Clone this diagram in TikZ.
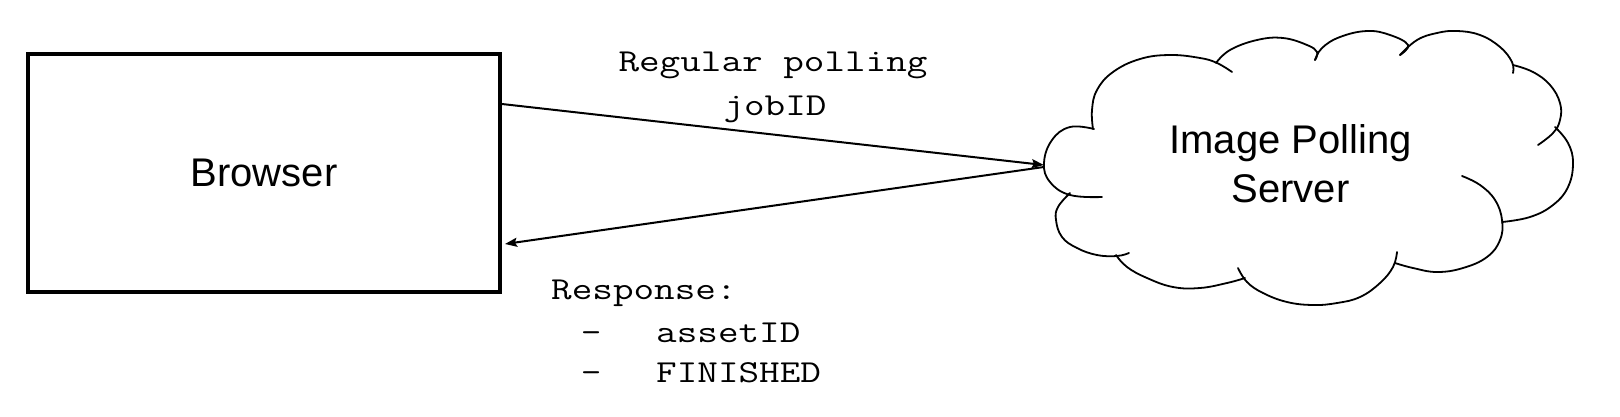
\documentclass[tikz,border=0pt]{standalone}
\usepackage{fontspec}
\setmainfont{Liberation Sans}
\usetikzlibrary{arrows.meta}
\newcommand{\mtx}[1]{\scalebox{1.25}[1]{#1}}
\begin{document}
\begin{tikzpicture}[x=1pt,y=-1pt,
  bigtext/.style={font=\fontsize{40}{49}\selectfont},
  monotext/.style={font=\ttfamily\fontsize{32}{40}\selectfont, inner sep=0pt},
  cloudline/.style={line width=1.8pt, line cap=round},
  conn/.style={line width=2pt, -{Stealth[length=12pt,width=9pt,inset=2pt]}}]
\useasboundingbox (0,0) rectangle (1620,416);
\node[draw, line width=4pt, minimum width=472pt, minimum height=238pt, inner sep=0pt, bigtext] (browser) at (264,173) {Browser};
\node[minimum width=529pt, minimum height=274pt, inner sep=0pt,
      label={[bigtext, align=center, xshift=-18pt, yshift=4pt]center:Image Polling\\Server}] (cloud) at (1308.5,168) {};
% cloud outline
\draw[cloudline] plot[smooth, tension=0.7] coordinates {(1094,129) (1070,127) (1052,140) (1044,163) (1050,182) (1070,195) (1102,197)};
\draw[cloudline] plot[smooth, tension=0.7] coordinates {(1093,129) (1092,110) (1097,90) (1113,72) (1140,59) (1170,55) (1200,58) (1217,63) (1232,72)};
\draw[cloudline] plot[smooth, tension=0.7] coordinates {(1216,63) (1230,50) (1257,40) (1283,38) (1307,45) (1317,52) (1315,60)};
\draw[cloudline] plot[smooth, tension=0.7] coordinates {(1315,60) (1322,48) (1340,37) (1367,31) (1390,35) (1408,45) (1400,55)};
\draw[cloudline] plot[smooth, tension=0.7] coordinates {(1400,55) (1417,40) (1437,33) (1457,31) (1480,35) (1500,47) (1512,62) (1513,73)};
\draw[cloudline] plot[smooth, tension=0.7] coordinates {(1513,65) (1533,72) (1550,85) (1560,103) (1560,120) (1553,133) (1538,145)};
\draw[cloudline] plot[smooth, tension=0.7] coordinates {(1555,127) (1568,143) (1573,163) (1568,187) (1553,205) (1530,217) (1502,222)};
\draw[cloudline] plot[smooth, tension=0.7] coordinates {(1462,176) (1480,185) (1495,200) (1502,220) (1500,240) (1487,257) (1463,268) (1437,272) (1413,268) (1395,263)};
\draw[cloudline] plot[smooth, tension=0.7] coordinates {(1397,252) (1393,267) (1380,283) (1360,297) (1337,303) (1313,305) (1287,302) (1263,293) (1247,282) (1238,268)};
\draw[cloudline] plot[smooth, tension=0.7] coordinates {(1116,255) (1127,267) (1147,278) (1173,287) (1200,288) (1227,283) (1245,278)};
\draw[cloudline] plot[smooth, tension=0.7] coordinates {(1070,193) (1058,207) (1056,220) (1062,237) (1077,248) (1097,255) (1117,256) (1129,253)};
% labels
\node[monotext, anchor=base] (lab1) at (773,71) {\mtx{Regular polling}};
\node[monotext, anchor=base] (lab2) at (775,115) {\mtx{jobID}};
\node[monotext, anchor=base west] (resp) at (551,299) {\mtx{Response:}};
\node[monotext, anchor=base west] (item1) at (551,342) {\hspace*{40pt}\makebox[0pt]{\mtx{-}}\hspace*{65pt}\mtx{assetID}};
\node[monotext, anchor=base west] (item2) at (551,382) {\hspace*{40pt}\makebox[0pt]{\mtx{-}}\hspace*{65pt}\mtx{FINISHED}};
% connectors
\draw[conn] ([yshift=69pt]browser.east) -- ([yshift=3pt]cloud.west);
\draw[conn] ([yshift=1pt]cloud.west) -- ([yshift=-71pt,xshift=3pt]browser.east);
\end{tikzpicture}
\end{document}
